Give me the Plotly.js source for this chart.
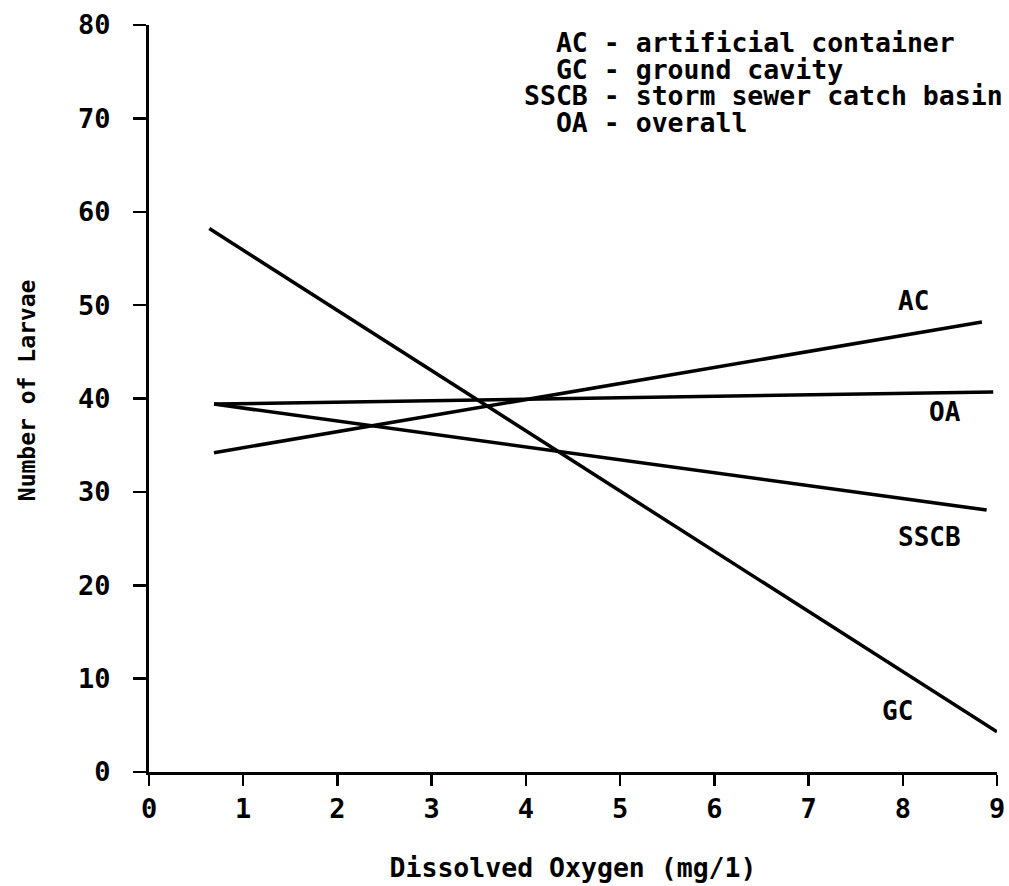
<!DOCTYPE html>
<html>
<head>
<meta charset="utf-8">
<script src="https://cdn.plot.ly/plotly-3.0.1.min.js"></script>
<style>html,body{margin:0;padding:0;background:#fff;}#chart{width:1009px;height:886px;}</style>
</head>
<body>
<div id="chart"></div>
<script>
// Regression lines: endpoints
const seriesNames = ["GC", "AC", "OA", "SSCB"];
const gcX = [0.64, 9.0];
const gcY = [58.2, 4.3];
const acX = [0.69, 8.84];
const acY = [34.2, 48.2];
const oaX = [0.69, 8.96];
const oaY = [39.4, 40.7];
const sscbX = [0.69, 8.89];
const sscbY = [39.4, 28.05];

// Line labels
const labelText = ["AC", "OA", "SSCB", "GC"];
const labelX = [8.11, 8.45, 8.28, 7.94];
const labelY = [50.4, 38.6, 25.2, 6.5];

// Key text
const keyCodes = ["AC", "GC", "SSCB", "OA"];
const keyDesc = ["artificial container", "ground cavity", "storm sewer catch basin", "overall"];

const xTicks = [0,1,2,3,4,5,6,7,8,9];
const yTicks = [0,10,20,30,40,50,60,70,80];

const FONT = "DejaVu Sans Mono, monospace";
const lineStyle = {color: "#000", width: 3.5};

const xs = [gcX, acX, oaX, sscbX];
const ys = [gcY, acY, oaY, sscbY];
const traces = seriesNames.map((n, i) => ({
  x: xs[i], y: ys[i], name: n, mode: "lines", type: "scatter",
  line: lineStyle, hoverinfo: "skip", showlegend: false
}));

const NB = "\u00A0";
const annotations = [];
labelText.forEach((t, i) => annotations.push({
  x: labelX[i], y: labelY[i], xref: "x", yref: "y", text: t, showarrow: false,
  font: {family: FONT, size: 26, color: "#000", weight: "bold"}
}));
const rowY = [0.976, 0.940, 0.905, 0.869];
keyCodes.forEach((c, i) => {
  const pad = NB.repeat(4 - c.length);
  annotations.push({
    x: 0.441, y: rowY[i], xref: "paper", yref: "paper",
    text: pad + c + NB + "-" + NB + keyDesc[i].replace(/ /g, NB), showarrow: false,
    xanchor: "left", yanchor: "middle", borderpad: 0,
    font: {family: FONT, size: 26.5, color: "#000", weight: "bold"}
  });
});
// y-axis title as rotated annotation
annotations.push({
  x: -0.144, y: 0.511, xref: "paper", yref: "paper", text: "Number of Larvae",
  textangle: -90, showarrow: false, xanchor: "center", yanchor: "middle",
  font: {family: FONT, size: 23, color: "#000", weight: "bold"}
});

const layout = {
  width: 1009, height: 886,
  margin: {l: 149, r: 12, t: 25, b: 114, pad: 0},
  paper_bgcolor: "#fff", plot_bgcolor: "#fff",
  showlegend: false,
  xaxis: {
    range: [0, 9], tickvals: xTicks, ticktext: xTicks.map(String),
    showgrid: false, zeroline: false, showline: true, linecolor: "#000", linewidth: 3,
    ticks: "outside", ticklen: 11, tickwidth: 2.5, tickcolor: "#000",
    tickfont: {family: FONT, size: 27, color: "#000", weight: "bold"},
    title: {text: "Dissolved Oxygen (mg/1)", standoff: 36,
      font: {family: FONT, size: 26.5, color: "#000", weight: "bold"}},
    automargin: false, fixedrange: true
  },
  yaxis: {
    range: [0, 80], tickvals: yTicks, ticktext: yTicks.map(String),
    showgrid: false, zeroline: false, showline: true, linecolor: "#000", linewidth: 3,
    ticks: "outside", ticklen: 13, tickwidth: 2.5, tickcolor: "#000",
    ticklabelstandoff: 17,
    tickfont: {family: FONT, size: 27, color: "#000", weight: "bold"},
    automargin: false, fixedrange: true
  },
  annotations: annotations
};

Plotly.newPlot("chart", traces, layout, {staticPlot: true, displayModeBar: false});
</script>
</body>
</html>
